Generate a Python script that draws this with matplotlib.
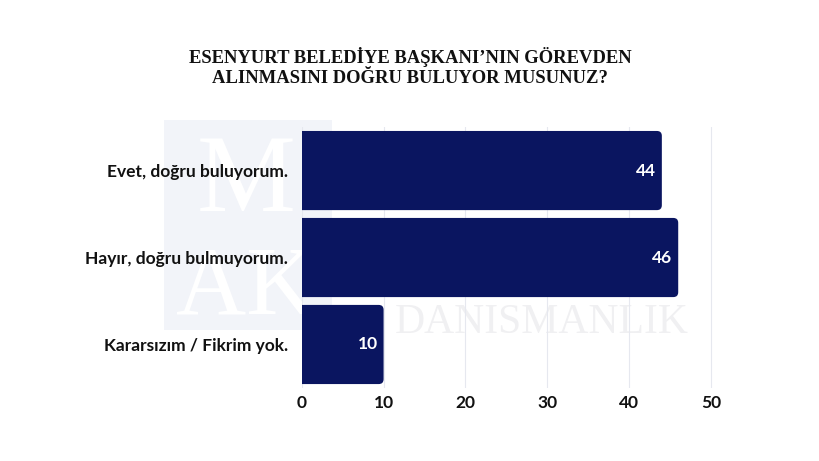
import matplotlib
matplotlib.use('Agg')
from matplotlib import pyplot as plt
from matplotlib.patches import Rectangle, FancyBboxPatch

title = 'ESENYURT BELEDİYE BAŞKANI’NIN GÖREVDEN\nALINMASINI DOĞRU BULUYOR MUSUNUZ?'
categories = ['Evet, doğru buluyorum.', 'Hayır, doğru bulmuyorum.', 'Kararsızım / Fikrim yok.']
values = [44, 46, 10]
xticks = [0, 10, 20, 30, 40, 50]

bar_color = '#0a1560'
sans = ['Lato', 'DejaVu Sans']


def main():
    fig = plt.figure(figsize=(8.2, 4.61), dpi=100)

    # faint logo watermark behind the chart
    fig.patches.append(Rectangle((0.20, 0.285), 0.205, 0.455, transform=fig.transFigure,
                                 facecolor='#f2f4f9', edgecolor='none', zorder=0))
    fig.text(0.30, 0.60, 'M', fontsize=80, family='Liberation Serif', color='#ffffff',
             ha='center', va='center', zorder=0.5)
    fig.text(0.30, 0.37, 'AK', fontsize=70, family='Liberation Serif', color='#ffffff',
             ha='center', va='center', zorder=0.5)
    fig.text(0.66, 0.30, 'DANISMANLIK', fontsize=30, family='Liberation Serif',
             color='#f0f0f2', ha='center', va='center', zorder=0.5)

    ax = fig.add_axes([0.368, 0.1584, 0.504, 0.566])
    ax.patch.set_alpha(0)
    ax.set_zorder(2)

    y = list(range(len(categories)))
    bars = ax.barh(y, values, height=0.91, color=bar_color, zorder=3)
    # swap plain bars for ones with rounded right ends (left end clipped at x=0)
    r = 0.6
    for b in bars:
        b.set_visible(False)
        p = FancyBboxPatch((b.get_x() - r, b.get_y()), b.get_width() + r, b.get_height(),
                           boxstyle='round,pad=0,rounding_size=%g' % r,
                           mutation_aspect=0.094, facecolor=bar_color,
                           edgecolor='none', zorder=3)
        ax.add_patch(p)
    for b, v in zip(bars, values):
        ax.text(b.get_width() - 0.7, b.get_y() + b.get_height() / 2, str(v),
                ha='right', va='center', color='white', fontsize=12.5,
                fontweight='bold', family=sans, zorder=4)

    ax.set_xlim(0, 50.5)
    ax.set_ylim(2.5, -0.5)
    ax.set_xticks(xticks)
    ax.set_yticks(y)
    ax.set_yticklabels(categories)
    ax.tick_params(length=0, pad=10)
    for lab in ax.get_yticklabels():
        lab.set_family(sans)
        lab.set_fontweight('bold')
        lab.set_fontsize(12.5)
        lab.set_color('#111111')
    for lab in ax.get_xticklabels():
        lab.set_family(sans)
        lab.set_fontweight('bold')
        lab.set_fontsize(12.5)
        lab.set_color('#111111')
    ax.tick_params(axis='x', pad=5)
    ax.grid(axis='x', color='#e6e8ef', linewidth=0.8, zorder=0)
    for s in ax.spines.values():
        s.set_visible(False)

    fig.text(0.5, 0.855, title, ha='center', va='center', fontsize=13.4,
             fontweight='bold', family='Liberation Serif', color='#111111',
             linespacing=1.2)

    fig.savefig('out.png', dpi=100, facecolor='white')


if __name__ == '__main__':
    main()
